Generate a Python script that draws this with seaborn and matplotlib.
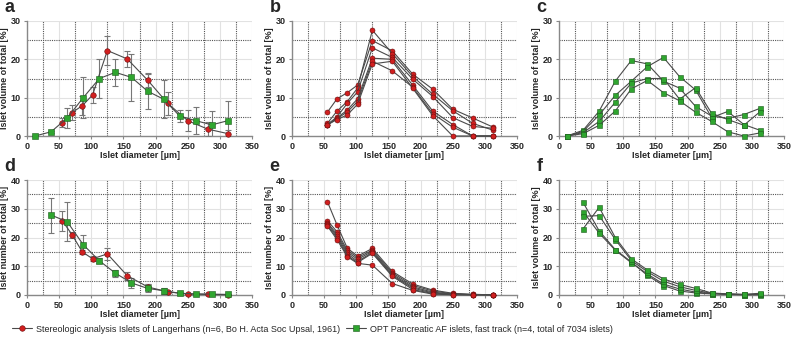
import numpy as np
import pandas as pd
import matplotlib
matplotlib.use('Agg')
import matplotlib.pyplot as plt
import seaborn as sns

# x positions (bin centres, um)
x_stereo = [55, 70, 86, 102, 125, 156, 188, 219, 250, 281, 313]
x_opt = [12.5, 37.5, 62.5, 87.5, 112.5, 137.5, 162.5, 187.5, 212.5, 237.5, 262.5, 287.5, 312.5]
x_opt_num = x_opt[1:]

# panel a: volume, mean +- sd
a_red = [3.5, 6.1, 7.9, 10.7, 22.3, 20.1, 14.5, 8.5, 4.0, 1.8, 0.6]
a_red_err = [1.2, 1.9, 2.5, 2.0, 3.7, 2.0, 1.8, 3.0, 2.7, 1.8, 1.0]
a_green = [0.0, 1.1, 4.7, 10.0, 15.0, 16.6, 15.3, 11.7, 9.6, 5.2, 4.0, 2.9, 4.0]
a_green_err = [0.0, 0.3, 2.5, 5.3, 5.2, 3.5, 6.2, 4.7, 5.0, 1.5, 3.5, 3.7, 5.2]

# panel b: individual stereologic volume curves
b_lines = [
    [6.2, 9.7, 11.3, 13.3, 24.9, 22.2, 16.1, 12.2, 7.0, 4.7, 2.3],
    [3.3, 6.5, 9.0, 12.5, 27.6, 21.5, 15.5, 10.9, 6.6, 3.3, 1.5],
    [3.0, 5.0, 8.5, 11.5, 23.0, 20.5, 14.8, 10.3, 4.8, 2.5, 2.0],
    [2.8, 4.7, 6.8, 9.7, 20.3, 20.0, 13.2, 6.5, 3.0, 0.0, 0.0],
    [3.0, 4.5, 6.3, 9.0, 19.5, 17.0, 12.7, 5.8, 2.3, 0.0, 0.0],
    [2.9, 4.3, 5.5, 8.3, 18.8, 19.5, 12.4, 5.3, 0.0, 0.0, 0.0],
]

# panel c: individual OPT volume curves
c_lines = [
    [0.0, 1.5, 6.5, 14.3, 19.7, 18.8, 14.3, 12.5, 7.7, 5.2, 4.6, 5.6, 7.2],
    [0.0, 1.2, 5.5, 10.6, 14.3, 18.1, 20.5, 15.5, 12.0, 4.8, 6.4, 3.0, 1.5],
    [0.0, 0.9, 3.8, 8.8, 13.8, 15.0, 15.0, 9.6, 12.6, 5.9, 4.3, 2.8, 6.3],
    [0.0, 0.6, 2.8, 6.5, 12.3, 14.5, 11.3, 9.2, 6.2, 3.8, 1.1, 0.0, 0.8],
]

# panel d: number, mean +- sd
d_red = [25.8, 21.0, 15.0, 12.6, 14.3, 6.7, 2.8, 1.1, 0.3, 0.2, 0.1]
d_red_err = [3.5, 1.0, 0.8, 0.8, 2.1, 1.4, 1.0, 0.3, 0.1, 0.1, 0.1]
d_green = [27.8, 25.5, 17.5, 11.9, 7.6, 4.2, 2.3, 1.5, 0.6, 0.4, 0.3, 0.2]
d_green_err = [6.1, 6.8, 3.4, 0.8, 1.2, 1.6, 1.4, 1.0, 0.3, 0.2, 0.1, 0.1]

# panel e: individual stereologic number curves
e_lines = [
    [32.5, 24.4, 16.3, 13.5, 16.2, 8.2, 3.8, 1.7, 0.6, 0.2, 0.1],
    [25.9, 22.0, 15.6, 13.0, 15.6, 7.7, 3.3, 1.4, 0.4, 0.2, 0.1],
    [25.1, 21.2, 15.0, 12.4, 15.2, 7.2, 2.8, 1.0, 0.3, 0.1, 0.1],
    [24.8, 20.5, 14.4, 11.7, 14.8, 6.8, 2.4, 0.7, 0.2, 0.1, 0.1],
    [24.2, 20.0, 13.7, 11.3, 14.5, 6.5, 1.9, 0.5, 0.1, 0.1, 0.1],
    [24.0, 19.3, 13.3, 11.0, 10.4, 4.0, 1.6, 0.3, 0.1, 0.1, 0.1],
]

# panel f: individual OPT curves
f_lines = [
    [32.2, 22.3, 15.8, 11.5, 6.8, 3.3, 1.4, 0.7, 0.4, 0.2, 0.1, 0.1],
    [29.0, 21.5, 15.6, 11.2, 7.3, 3.8, 2.1, 1.0, 0.5, 0.3, 0.1, 0.2],
    [27.4, 27.6, 19.3, 12.0, 8.1, 4.8, 2.9, 1.6, 0.6, 0.3, 0.2, 0.3],
    [23.0, 30.5, 20.0, 12.6, 8.7, 5.6, 3.7, 2.3, 0.7, 0.4, 0.2, 0.6],
]

legend_red = 'Stereologic analysis Islets of Langerhans (n=6, Bo H. Acta Soc Upsal, 1961)'
legend_green = 'OPT Pancreatic AF islets, fast track (n=4, total of 7034 islets)'

RED = '#d11f1f'
GREEN = '#2fa52f'
LINE = '#4a4a4a'

sns.set_theme(style='white')
plt.rcParams['font.family'] = ['Liberation Sans', 'DejaVu Sans']


def long_df(xs, lines):
    rows = []
    for i, ys in enumerate(lines):
        for xv, yv in zip(xs, ys):
            rows.append({'x': xv, 'y': yv, 'rep': i})
    return pd.DataFrame(rows)


def style_axis(ax, ymax, ylabel):
    ax.set_xlim(0, 350)
    ax.set_ylim(0, ymax)
    ax.set_xticks(range(0, 351, 50))
    ax.set_yticks(range(0, ymax + 1, 10))
    ax.grid(True, color='#e2e2e2', lw=0.8)
    for xv in range(25, 350, 50):
        ax.axvline(xv, color='#555555', lw=0.8, ls=(0, (1, 1)), zorder=1)
    for yv in range(5, ymax, 10):
        ax.axhline(yv, color='#555555', lw=0.8, ls=(0, (1, 1)), zorder=1)
    for s in ['top', 'right']:
        ax.spines[s].set_visible(False)
    for s in ['left', 'bottom']:
        ax.spines[s].set_color('#888888')
        ax.spines[s].set_linewidth(1.0)
    ax.tick_params(axis='both', labelsize=6.5, length=2.5, width=0.8, color='#888888', pad=2,
                   bottom=True, left=True)
    for lab in ax.get_xticklabels() + ax.get_yticklabels():
        lab.set_fontweight('bold')
    ax.set_xlabel('Islet diameter [µm]', fontsize=6.5, fontweight='bold', labelpad=0)
    ax.set_ylabel(ylabel, fontsize=6.5, fontweight='bold', labelpad=1)


def mean_panel(ax, xr, yr, er, xg, yg, eg):
    ax.errorbar(xr, yr, yerr=er, fmt='none', ecolor='#777777', elinewidth=0.8, capsize=2, capthick=0.8, zorder=3)
    ax.errorbar(xg, yg, yerr=eg, fmt='none', ecolor='#777777', elinewidth=0.8, capsize=2, capthick=0.8, zorder=3)
    sns.lineplot(x=xr, y=yr, ax=ax, color=LINE, lw=0.8, marker='o', markersize=4,
                 markerfacecolor=RED, markeredgecolor='#6a0d0d', markeredgewidth=0.4, zorder=4, clip_on=False)
    sns.lineplot(x=xg, y=yg, ax=ax, color=LINE, lw=0.8, marker='s', markersize=4,
                 markerfacecolor=GREEN, markeredgecolor='#1d5c1d', markeredgewidth=0.4, zorder=4, clip_on=False)


def multi_panel(ax, xs, lines, marker, face, edge):
    df = long_df(xs, lines)
    sns.lineplot(data=df, x='x', y='y', units='rep', estimator=None, ax=ax, color=LINE, lw=0.8,
                 marker=marker, markersize=3.6, markerfacecolor=face, markeredgecolor=edge,
                 markeredgewidth=0.4, zorder=4, clip_on=False)


fig = plt.figure(figsize=(7.93, 3.41), dpi=100)
W, H = 793, 341
lefts = [27, 292, 559]
aw = 225
rows = [(21, 136), (180, 295)]

axes = []
for r, (top, bot) in enumerate(rows):
    for c, lx in enumerate(lefts):
        ax = fig.add_axes([lx / W, 1 - bot / H, aw / W, (bot - top) / H])
        axes.append(ax)

ax_a, ax_b, ax_c, ax_d, ax_e, ax_f = axes

mean_panel(ax_a, x_stereo, a_red, a_red_err, x_opt, a_green, a_green_err)
multi_panel(ax_b, x_stereo, b_lines, 'o', RED, '#6a0d0d')
multi_panel(ax_c, x_opt, c_lines, 's', GREEN, '#1d5c1d')
mean_panel(ax_d, x_stereo, d_red, d_red_err, x_opt_num, d_green, d_green_err)
multi_panel(ax_e, x_stereo, e_lines, 'o', RED, '#6a0d0d')
multi_panel(ax_f, x_opt_num, f_lines, 's', GREEN, '#1d5c1d')

style_axis(ax_a, 30, 'Islet volume of total [%]')
style_axis(ax_b, 30, 'Islet volume of total [%]')
style_axis(ax_c, 30, 'Islet volume of total [%]')
style_axis(ax_d, 40, 'Islet number of total [%]')
style_axis(ax_e, 40, 'Islet number of total [%]')
style_axis(ax_f, 40, 'Islet volume of total [%]')

for ax, letter in zip(axes, 'abcdef'):
    ax.text(-0.1, 1.04, letter, transform=ax.transAxes, fontsize=13, fontweight='bold',
            ha='left', va='bottom')

h_red = plt.Line2D([], [], color=LINE, lw=0.8, marker='o', markersize=4,
                   markerfacecolor=RED, markeredgecolor='#6a0d0d', markeredgewidth=0.4)
h_green = plt.Line2D([], [], color=LINE, lw=0.8, marker='s', markersize=4,
                     markerfacecolor=GREEN, markeredgecolor='#1d5c1d', markeredgewidth=0.4)
fig.legend([h_red, h_green], [legend_red, legend_green], loc='center left',
           bbox_to_anchor=(0.005, 0.035), ncol=2, frameon=False, fontsize=6.5,
           handlelength=2.2, handletextpad=0.5, columnspacing=0.6)

fig.savefig('out.png', dpi=100)
